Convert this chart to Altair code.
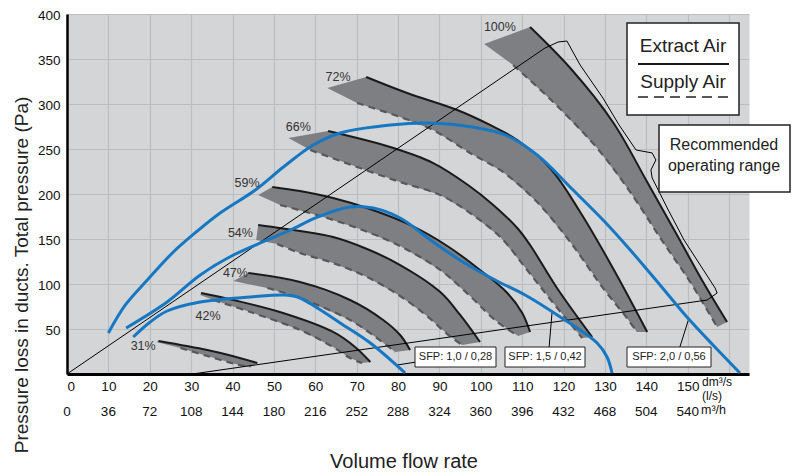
import altair as alt
import pandas as pd

FONT = "Liberation Sans"

# ---------------- axis ticks ----------------
ls_ticks = [0, 10, 20, 30, 40, 50, 60, 70, 80, 90, 100, 110, 120, 130, 140, 150]
m3h_labels = ["0", "36", "72", "108", "144", "180", "216", "252", "288", "324",
              "360", "396", "432", "468", "504", "540"]
grid_x = ls_ticks + [160]
pa_ticks = [50, 100, 150, 200, 250, 300, 350, 400]

x_title = "Volume flow rate"
y_title = "Pressure loss in ducts. Total pressure (Pa)"

# ---------------- fan curve bands (x = l/s, y = Pa) ----------------
band_names = ["31%", "42%", "47%", "54%", "59%", "66%", "72%", "100%"]
tip_x = [21.6, 32.2, 40.2, 45.7, 46.2, 53.5, 62.9, 100.8]
tip_y = [35.6, 87.8, 103.3, 148.9, 198.9, 262.2, 317.8, 366.7]
label_x = [18.4, 34.1, 40.7, 41.9, 43.5, 55.9, 65.5, 104.6]
label_y = [31.1, 64.4, 112.2, 156.7, 212.2, 274.4, 330.0, 385.6]

ext31_x = [22.1, 33.9, 40.0, 46.0]
ext31_y = [36.7, 26.7, 20.0, 12.2]
sup31_x = [27.4, 33.9, 40.7, 44.3]
sup31_y = [28.9, 20.0, 11.1, 7.8]

ext42_x = [32.4, 40.2, 52.2, 64.3, 69.6, 73.3]
ext42_y = [90.0, 82.2, 67.8, 46.7, 30.0, 13.3]
sup42_x = [35.4, 44.3, 56.3, 64.3, 68.4, 71.3]
sup42_y = [82.2, 68.9, 48.9, 30.0, 17.8, 12.2]

ext47_x = [43.8, 56.3, 68.4, 76.4, 80.5, 82.9]
ext47_y = [112.2, 102.2, 82.2, 60.0, 43.3, 26.7]
sup47_x = [48.4, 56.3, 68.4, 74.9, 79.3]
sup47_y = [95.6, 84.4, 60.0, 40.0, 24.4]

ext54_x = [46.2, 56.3, 64.3, 72.5, 80.5, 90.2, 95.0, 99.8]
ext54_y = [165.6, 158.9, 152.2, 138.9, 121.1, 91.1, 65.6, 35.6]
sup54_x = [50.8, 56.3, 64.3, 72.5, 80.5, 87.0, 91.9, 95.5]
sup54_y = [144.4, 134.4, 123.3, 107.8, 86.7, 64.4, 44.4, 32.2]

ext59_x = [49.6, 56.3, 64.3, 72.5, 82.9, 91.9, 99.8, 106.4, 110.0, 111.9]
ext59_y = [207.8, 203.3, 195.6, 184.4, 165.6, 142.2, 115.6, 90.0, 67.8, 46.7]
sup59_x = [51.5, 61.2, 70.8, 80.5, 90.2, 97.4, 103.4, 109.0]
sup59_y = [187.8, 175.6, 161.1, 142.2, 115.6, 86.7, 60.0, 42.2]

ext66_x = [63.1, 78.1, 88.5, 96.9, 103.0, 108.8, 111.9, 118.4, 126.9]
ext66_y = [270.0, 252.2, 234.4, 210.0, 187.8, 162.2, 143.3, 95.6, 41.1]
sup66_x = [58.8, 70.1, 80.5, 90.2, 97.4, 104.7, 111.2, 117.5, 124.5]
sup66_y = [248.9, 230.0, 213.3, 198.9, 178.9, 152.2, 115.6, 78.9, 40.0]

ext72_x = [72.3, 82.2, 94.3, 102.2, 108.8, 116.7, 124.0, 131.9, 140.2]
ext72_y = [330.0, 312.2, 293.3, 276.7, 260.0, 228.9, 180.0, 117.8, 46.7]
sup72_x = [70.1, 80.5, 88.5, 97.4, 105.4, 113.6, 121.6, 129.5, 135.3, 137.7]
sup72_y = [301.1, 285.6, 271.1, 245.6, 224.4, 191.1, 146.7, 95.6, 62.2, 46.7]

ext100_x = [111.9, 121.6, 131.9, 140.2, 147.4, 153.7, 159.5]
ext100_y = [385.6, 340.0, 280.0, 213.3, 154.4, 102.2, 57.8]
sup100_x = [107.8, 117.5, 128.1, 136.1, 144.0, 150.6, 157.1]
sup100_y = [343.3, 302.2, 251.1, 202.2, 146.7, 102.2, 52.2]

# ---------------- system curves (blue) ----------------
blue1_x = [10.0, 14.1, 19.4, 25.7, 31.5, 37.0, 45.5, 52.3, 59.5, 66.0, 78.1, 87.8,
           98.1, 105.9, 113.6, 122.3, 130.0, 136.1, 143.3, 149.8, 156.1, 162.6]
blue1_y = [45.6, 76.7, 104.4, 135.6, 158.9, 178.9, 204.4, 230.0, 254.4, 267.8, 276.7, 278.9,
           274.4, 265.6, 243.3, 204.4, 168.9, 137.8, 98.9, 63.3, 32.2, 1.1]
blue2_x = [14.3, 24.2, 32.2, 40.2, 48.4, 54.0, 60.5, 68.4, 74.0, 80.5, 88.5, 95.7,
           103.9, 110.7, 119.2, 128.1, 130.5, 131.7]
blue2_y = [51.1, 80.0, 110.0, 132.2, 148.9, 160.0, 174.4, 185.6, 184.4, 173.3, 146.7, 124.4,
           103.3, 87.8, 63.3, 34.4, 18.9, 1.1]
blue3_x = [16.0, 20.1, 24.2, 32.2, 44.3, 52.3, 55.7, 60.5, 66.0, 73.3, 81.7]
blue3_y = [41.1, 57.8, 70.0, 80.0, 85.6, 87.8, 85.6, 73.3, 56.7, 34.4, 1.1]

# ---------------- recommended operating range outline ----------------
diag_hi_x = [0.0, 115.5]
diag_hi_y = [0.0, 362.2]
diag_lo_x = [30.3, 154.7]
diag_lo_y = [0.0, 82.2]
brk_x = [115.5, 118.7, 120.8, 124.0, 129.5, 133.4, 137.5, 141.4, 142.3, 141.1, 141.4,
         145.3, 149.1, 156.6, 157.1, 154.7]
brk_y = [362.2, 368.9, 370.0, 343.3, 306.7, 276.7, 248.9, 245.6, 237.8, 226.7, 217.8,
         182.2, 148.9, 95.6, 90.0, 82.2]

# SFP leaders
lead1_x = [84.4, 79.8]
lead1_y = [13.3, 10.0]
lead2_x = [116.5, 117.2]
lead2_y = [30.0, 67.8]
lead3_x = [148.1, 150.3]
lead3_y = [30.0, 62.2]

sfp_texts = ["SFP: 1,0 / 0,28", "SFP: 1,5 / 0,42", "SFP: 2,0 / 0,56"]

# ---------------- build tables ----------------
ext_all = [(ext31_x, ext31_y), (ext42_x, ext42_y), (ext47_x, ext47_y), (ext54_x, ext54_y),
           (ext59_x, ext59_y), (ext66_x, ext66_y), (ext72_x, ext72_y), (ext100_x, ext100_y)]
sup_all = [(sup31_x, sup31_y), (sup42_x, sup42_y), (sup47_x, sup47_y), (sup54_x, sup54_y),
           (sup59_x, sup59_y), (sup66_x, sup66_y), (sup72_x, sup72_y), (sup100_x, sup100_y)]

poly_rows, ext_rows, sup_rows = [], [], []
for k, name in enumerate(band_names):
    ex, ey = ext_all[k]
    sx, sy = sup_all[k]
    pts = [(tip_x[k], tip_y[k])] + list(zip(ex, ey)) + list(zip(sx, sy))[::-1]
    for i, (x, y) in enumerate(pts):
        poly_rows.append({"band": name, "i": i, "x": x, "y": y})
    for i, (x, y) in enumerate(zip(ex, ey)):
        ext_rows.append({"band": name, "i": i, "x": x, "y": y})
    for i, (x, y) in enumerate(zip(sx, sy)):
        sup_rows.append({"band": name, "i": i, "x": x, "y": y})
poly_df = pd.DataFrame(poly_rows)
ext_df = pd.DataFrame(ext_rows)
sup_df = pd.DataFrame(sup_rows)

blue_rows = []
for cid, (bx, by) in enumerate([(blue1_x, blue1_y), (blue2_x, blue2_y), (blue3_x, blue3_y)]):
    for i, (x, y) in enumerate(zip(bx, by)):
        blue_rows.append({"c": cid, "i": i, "x": x, "y": y})
blue_df = pd.DataFrame(blue_rows)

thin_rows = []
for cid, (tx, ty) in enumerate([(diag_hi_x, diag_hi_y), (diag_lo_x, diag_lo_y), (brk_x, brk_y),
                                 (lead1_x, lead1_y), (lead2_x, lead2_y), (lead3_x, lead3_y)]):
    for i, (x, y) in enumerate(zip(tx, ty)):
        thin_rows.append({"c": cid, "i": i, "x": x, "y": y})
thin_df = pd.DataFrame(thin_rows)

lab_df = pd.DataFrame({"x": label_x, "y": label_y, "t": band_names})
m3h_df = pd.DataFrame({"x": ls_ticks, "t": m3h_labels})

# ---------------- encodings ----------------
x_axis = alt.Axis(values=grid_x, labelExpr="datum.value > 150 ? '' : datum.label",
                  title=None,
                  labelFont=FONT, labelFontSize=13.5, labelColor="#111", labelPadding=5,
                  ticks=False, domainColor="#000", domainWidth=3,
                  gridColor="#bcbdc0", gridWidth=1.2)
y_axis = alt.Axis(values=pa_ticks, title=None,
                  labelFont=FONT, labelFontSize=13.5, labelColor="#111", labelPadding=7,
                  labelOffset=1,
                  ticks=False, domainColor="#000", domainWidth=2.5,
                  gridColor="#bcbdc0", gridWidth=1.2)
X = alt.X("x:Q", scale=alt.Scale(domain=[0, 164.8], nice=False, zero=False), axis=x_axis)
Y = alt.Y("y:Q", scale=alt.Scale(domain=[0, 400], nice=False), axis=y_axis)

bands = alt.Chart(poly_df).mark_line(fill="#7e7f82", strokeWidth=0).encode(
    x=X, y=Y, detail="band:N", order="i:Q")
ext_lines = alt.Chart(ext_df).mark_line(color="#1a1a1a", strokeWidth=2,
                                        interpolate="catmull-rom").encode(
    x=X, y=Y, detail="band:N", order="i:Q")
sup_lines = alt.Chart(sup_df).mark_line(color="#58585b", strokeWidth=2.2, strokeDash=[7, 5],
                                        interpolate="catmull-rom").encode(
    x=X, y=Y, detail="band:N", order="i:Q")
thin = alt.Chart(thin_df).mark_line(color="#000", strokeWidth=1).encode(
    x=X, y=Y, detail="c:N", order="i:Q")
blue = alt.Chart(blue_df).mark_line(color="#1677c2", strokeWidth=3,
                                    interpolate="catmull-rom").encode(
    x=X, y=Y, detail="c:N", order="i:Q")
labels = alt.Chart(lab_df).mark_text(font=FONT, fontSize=12.5, color="#333").encode(
    x=X, y=Y, text="t:N")
m3h = alt.Chart(m3h_df).mark_text(font=FONT, fontSize=13.5, color="#111").encode(
    x=X, y=alt.value(398), text="t:N")

one = pd.DataFrame({"a": [0]})


def box(x1, x2, y1, y2, sw=1.3):
    return alt.Chart(one).mark_rect(fill="white", stroke="#222", strokeWidth=sw).encode(
        x=alt.value(x1), x2=alt.value(x2), y=alt.value(y1), y2=alt.value(y2))


def txt(s, x, y, size, align="center", angle=0, color="#222"):
    return alt.Chart(one).mark_text(text=s, font=FONT, fontSize=size, color=color,
                                    align=align, baseline="middle", angle=angle).encode(
        x=alt.value(x), y=alt.value(y))


def rule(x1, x2, y, color, dash=None, sw=2):
    kw = {"color": color, "strokeWidth": sw}
    if dash:
        kw["strokeDash"] = dash
    return alt.Chart(one).mark_rule(**kw).encode(
        x=alt.value(x1), x2=alt.value(x2), y=alt.value(y))


annot = [
    box(560, 672, 9, 101, 1.5),
    txt("Extract Air", 616, 32, 19),
    rule(571, 662, 50, "#1a1a1a"),
    txt("Supply Air", 616, 68, 19),
    rule(571, 662, 83, "#58585b", [10, 6]),
    box(592, 723, 111, 178, 1.5),
    txt("Recommended", 657, 131, 16),
    txt("operating range", 657, 152, 16),
    box(348, 429, 333, 353, 1),
    txt(sfp_texts[0], 388.5, 343, 11),
    box(438, 518, 333, 353, 1),
    txt(sfp_texts[1], 478, 343, 11),
    box(560, 644, 333, 353, 1),
    txt(sfp_texts[2], 602, 343, 11),
    txt("dm³/s", 635, 368, 12, "left", color="#111"),
    txt("(l/s)", 635, 382, 12, "left", color="#111"),
    txt("m³/h", 634, 396, 12.5, "left", color="#111"),
    txt(x_title, 337, 448, 20),
    txt(y_title, -45, 261, 19, angle=270),
]

chart = alt.layer(bands, ext_lines, sup_lines, thin, blue, labels, m3h, *annot).properties(
    width=682, height=360,
    padding={"left": 59, "top": 6, "right": 43, "bottom": 100},
    autosize=alt.AutoSizeParams(type="none"),
    background="white",
).configure_view(fill="#d4d5d7", stroke="transparent")

chart.save("out.html", embed_options={"renderer": "svg", "actions": False})
